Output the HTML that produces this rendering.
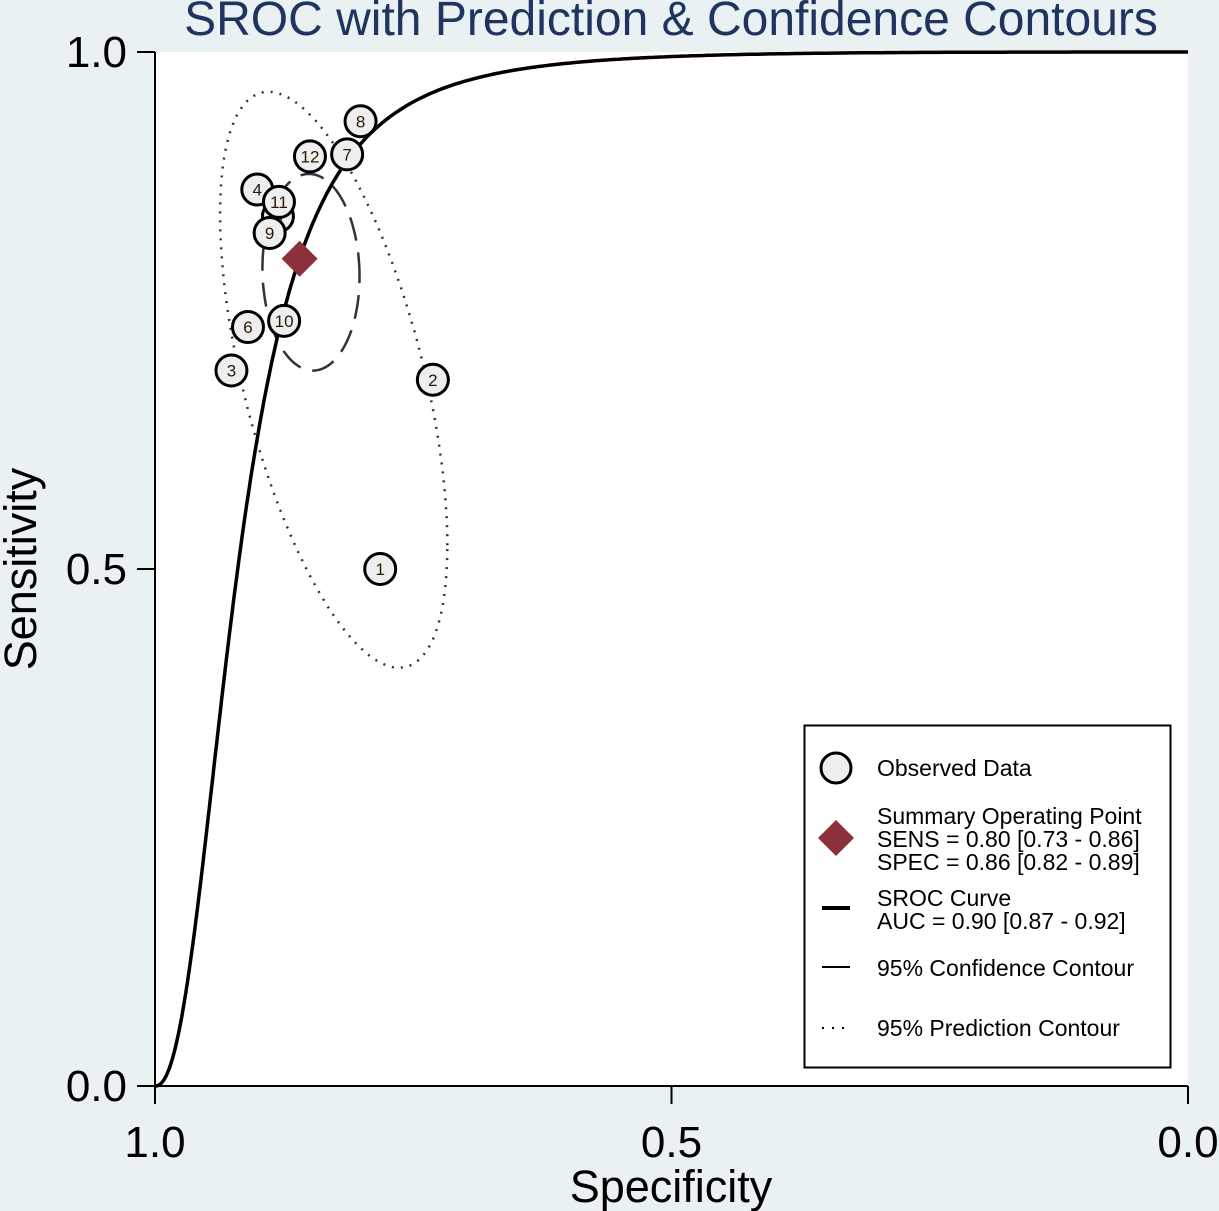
<!DOCTYPE html>
<html><head><meta charset="utf-8"><style>
body{margin:0;background:#e9f1f3;}
svg{display:block;font-family:"Liberation Sans",Arial,sans-serif;}
</style></head><body>
<svg id="chart" width="1219" height="1211" viewBox="0 0 1219 1211">
<rect x="0" y="0" width="1219" height="1211" fill="#e9f1f3"/>
<rect x="155" y="52" width="1033" height="1034" fill="#ffffff"/>
<text x="671" y="35" font-size="48" fill="#1f3560" text-anchor="middle">SROC with Prediction &amp; Confidence Contours</text>
<g id="contours"></g>
<g id="curve"></g>
<g id="points"></g>
<g id="axes"></g>
<text transform="translate(36,569) rotate(-90)" font-size="45" text-anchor="middle" fill="#000">Sensitivity</text>
<text x="671" y="1202" font-size="45" text-anchor="middle" fill="#000">Specificity</text>
<g>
<rect x="804.5" y="725.5" width="366" height="342" fill="#fff" stroke="#000" stroke-width="2"/>
<circle cx="836" cy="768" r="15" fill="#eeeeee" stroke="#000" stroke-width="3"/>
<text x="877" y="776" font-size="23">Observed Data</text>
<polygon points="836,820 854,838 836,856 818,838" fill="#8b313b"/>
<text font-size="23"><tspan x="877" y="824">Summary Operating Point</tspan><tspan x="877" y="847">SENS = 0.80 [0.73 - 0.86]</tspan><tspan x="877" y="870">SPEC = 0.86 [0.82 - 0.89]</tspan></text>
<line x1="822" y1="908" x2="850" y2="908" stroke="#000" stroke-width="4"/>
<text font-size="23"><tspan x="877" y="906">SROC Curve</tspan><tspan x="877" y="929">AUC = 0.90 [0.87 - 0.92]</tspan></text>
<line x1="822" y1="967" x2="850" y2="967" stroke="#000" stroke-width="2"/>
<text x="877" y="976" font-size="23">95% Confidence Contour</text>
<line x1="822" y1="1028" x2="850" y2="1028" stroke="#000" stroke-width="2" stroke-dasharray="2,8"/>
<text x="877" y="1036" font-size="23">95% Prediction Contour</text>
</g>
</svg>
<script>
const studyIds=["1","2","3","4","5","6","7","8","9","10","11","12"];
const studySpec=[0.782,0.731,0.926,0.901,0.881,0.910,0.814,0.801,0.889,0.875,0.880,0.850];
const studySens=[0.500,0.683,0.692,0.867,0.841,0.734,0.901,0.933,0.825,0.740,0.855,0.899];
const summarySpec=[0.86];
const summarySens=[0.80];
const srocParams=[5.42,2.22];
// contour: center spec, center sens, half-width (1-spec units), half-height, shear (sens units)
const confContour=[0.849,0.787,0.047,0.095,0.004];
const predContour=[0.827,0.683,0.110,0.228,0.160];
const xTicks=[1.0,0.5,0.0];
const yTicks=[0.0,0.5,1.0];
const X0=155,X1=1188,Y0=1086,Y1=52;
const xs=s=>X0+(1-s)*(X1-X0);
const ys=v=>Y0-v*(Y0-Y1);
const NS="http://www.w3.org/2000/svg";
function mk(tag,attrs,parent){const e=document.createElementNS(NS,tag);for(const k in attrs)e.setAttribute(k,attrs[k]);parent.appendChild(e);return e;}
const gC=document.getElementById('contours');
function ellipse(c,name,dash,w){
  let d="";
  for(let i=0;i<=160;i++){const t=i/160*2*Math.PI;
    const fx=c[2]*Math.cos(t);
    const fy=c[3]*Math.sin(t)-c[4]*Math.cos(t);
    const px=X0+(1-c[0]+fx)*(X1-X0),py=ys(c[1]+fy);
    d+=(i?"L":"M")+px.toFixed(1)+","+py.toFixed(1);}
  const p=mk('path',{d:d,fill:"none",stroke:"#333",'stroke-width':w,'stroke-dasharray':dash},gC);
  
  
}
ellipse(predContour,'prediction-contour',"2,7",2.5);
ellipse(confContour,'confidence-contour',"24,12",2.5);
const gS=document.getElementById('curve');
let d="M"+xs(1)+","+ys(0);
for(let i=1;i<=400;i++){const f=Math.pow(i/400,2.2);
  const lf=Math.log(f/(1-f+1e-12));const ls=srocParams[0]+srocParams[1]*lf;const s=1/(1+Math.exp(-ls));
  d+="L"+xs(1-f).toFixed(1)+","+ys(Math.min(s,1)).toFixed(1);}
const cp=mk('path',{d:d,fill:"none",stroke:"#000",'stroke-width':3.5},gS);


const gP=document.getElementById('points');
studyIds.forEach((id,i)=>{
  const g=mk('g',{},gP);
  
  
  mk('circle',{cx:xs(studySpec[i]),cy:ys(studySens[i]),r:15.5,fill:"#eeeeee",stroke:"#000",'stroke-width':3},g);
  const t=mk('text',{x:xs(studySpec[i]),y:ys(studySens[i])+6,'font-size':17,'text-anchor':"middle",fill:"#2a1a05"},g);
  t.textContent=id;
});
const dx=xs(summarySpec[0]),dy=ys(summarySens[0]);
const dm=mk('polygon',{points:`${dx},${dy-18} ${dx+18},${dy} ${dx},${dy+18} ${dx-18},${dy}`,fill:"#8b313b"},gP);


const gA=document.getElementById('axes');
const ya=mk('line',{x1:X0,y1:Y1,x2:X0,y2:Y0,stroke:"#000",'stroke-width':2},gA);


const xa=mk('line',{x1:X0,y1:Y0,x2:X1,y2:Y0,stroke:"#000",'stroke-width':2},gA);


yTicks.forEach(v=>{
  const y=ys(v);
  const l=mk('line',{x1:137,y1:y,x2:X0,y2:y,stroke:"#000",'stroke-width':2},gA);
  
  
  const t=mk('text',{x:127,y:y+15,'font-size':44,'text-anchor':"end"},gA);
  
  
  t.textContent=v.toFixed(1);
});
xTicks.forEach(v=>{
  const x=xs(v);
  const l=mk('line',{x1:x,y1:Y0,x2:x,y2:Y0+18,stroke:"#000",'stroke-width':2},gA);
  
  
  const t=mk('text',{x:x,y:1157,'font-size':44,'text-anchor':"middle"},gA);
  
  
  t.textContent=v.toFixed(1);
});
</script>
</body></html>
